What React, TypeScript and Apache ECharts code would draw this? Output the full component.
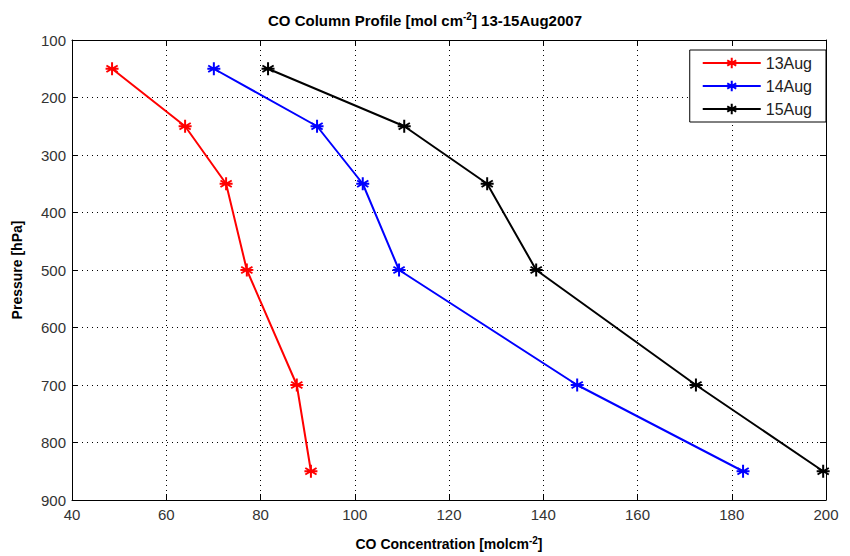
import React, { useEffect, useRef } from "react";
import * as echarts from "echarts";

const pressures = [150, 250, 350, 500, 700, 850];
const seriesNames = ["13Aug", "14Aug", "15Aug"];
const aug13 = [48.5, 64, 72.7, 77.1, 87.7, 90.7];
const aug14 = [70.1, 92, 101.7, 109.4, 147.2, 182.4];
const aug15 = [81.6, 110.5, 128.1, 138.5, 172.4, 199.4];
const colors = ["#ff0000", "#0000ff", "#000000"];
const xTicks = { min: 40, max: 200, interval: 20 };
const yTicks = { min: 100, max: 900, interval: 100 };

const STAR = "path://M0,-10 L0,10 M-8.66,-5 L8.66,5 M-8.66,5 L8.66,-5 M-10,0 L10,0";
const FONT = "Liberation Sans, Arial, Helvetica, sans-serif";

export default function App() {
  const ref = useRef<HTMLDivElement>(null);
  useEffect(() => {
    if (!ref.current) return;
    const chart = echarts.init(ref.current, null, { renderer: "svg" });
    const all = [aug13, aug14, aug15];
    const series = all.map((vals, i) => ({
      name: seriesNames[i],
      type: "line",
      xAxisIndex: 0,
      yAxisIndex: 0,
      data: vals.map((v, j) => [v, pressures[j]]),
      symbol: STAR,
      symbolSize: 13,
      showSymbol: true,
      lineStyle: { color: colors[i], width: 2 },
      itemStyle: { color: colors[i], borderColor: colors[i], borderWidth: 2 },
      emphasis: { disabled: true },
    }));
    const commonLine = { show: true, lineStyle: { color: "#000", width: 1 } };
    chart.setOption({
      animation: false,
      backgroundColor: "#fff",
      textStyle: { fontFamily: FONT },
      title: {
        text: "{t|CO Column Profile [mol cm}{s|-2}{t|] 13-15Aug2007}",
        left: "center",
        top: 6,
        textStyle: {
          rich: {
            t: { fontSize: 15, fontWeight: "bold", color: "#000", fontFamily: FONT },
            s: { fontSize: 10, fontWeight: "bold", color: "#000", fontFamily: FONT, verticalAlign: "top", padding: [0, 0, 8, 0] },
          },
        },
      },
      legend: {
        right: 24,
        top: 50,
        orient: "vertical",
        backgroundColor: "#fff",
        borderColor: "#000",
        borderWidth: 1,
        padding: [5, 14, 5, 12],
        itemGap: 7,
        itemWidth: 58,
        itemHeight: 13,
        textStyle: { fontSize: 16, color: "#222", fontFamily: FONT },
        data: seriesNames,
      },
      grid: { left: 72, right: 24, top: 40, bottom: 50, containLabel: false },
      xAxis: [
        {
          type: "value",
          min: xTicks.min,
          max: xTicks.max,
          interval: xTicks.interval,
          position: "bottom",
          name: "{t|CO Concentration [molcm}{s|-2}{t|]}",
          nameLocation: "middle",
          nameGap: 35,
          nameTextStyle: {
            rich: {
              t: { fontSize: 14, fontWeight: "bold", color: "#000", fontFamily: FONT },
              s: { fontSize: 10, fontWeight: "bold", color: "#000", fontFamily: FONT, verticalAlign: "top", padding: [0, 0, 8, 0] },
            },
          },
          axisLine: commonLine,
          axisTick: { show: true, inside: true, length: 6, lineStyle: { color: "#000" } },
          axisLabel: { fontSize: 15, color: "#333", margin: 7, fontFamily: FONT },
          splitLine: { show: true, lineStyle: { color: "#000", type: [1, 4], width: 1 } },
        },
        {
          type: "value",
          min: xTicks.min,
          max: xTicks.max,
          interval: xTicks.interval,
          position: "top",
          axisLine: commonLine,
          axisTick: { show: true, inside: true, length: 6, lineStyle: { color: "#000" } },
          axisLabel: { show: false },
          splitLine: { show: false },
        },
      ],
      yAxis: [
        {
          type: "value",
          inverse: true,
          min: yTicks.min,
          max: yTicks.max,
          interval: yTicks.interval,
          position: "left",
          name: "Pressure [hPa]",
          nameLocation: "middle",
          nameGap: 48,
          nameTextStyle: { fontSize: 14, fontWeight: "bold", color: "#000", fontFamily: FONT },
          axisLine: commonLine,
          axisTick: { show: true, inside: true, length: 6, lineStyle: { color: "#000" } },
          axisLabel: { fontSize: 15, color: "#333", margin: 6, fontFamily: FONT },
          splitLine: { show: true, lineStyle: { color: "#000", type: [1, 4], width: 1 } },
        },
        {
          type: "value",
          inverse: true,
          min: yTicks.min,
          max: yTicks.max,
          interval: yTicks.interval,
          position: "right",
          axisLine: commonLine,
          axisTick: { show: true, inside: true, length: 6, lineStyle: { color: "#000" } },
          axisLabel: { show: false },
          splitLine: { show: false },
        },
      ],
      series,
    });
    return () => chart.dispose();
  }, []);
  return (
    <div
      ref={ref}
      style={{ position: "absolute", left: 0, top: 0, width: 850, height: 556 }}
    />
  );
}
